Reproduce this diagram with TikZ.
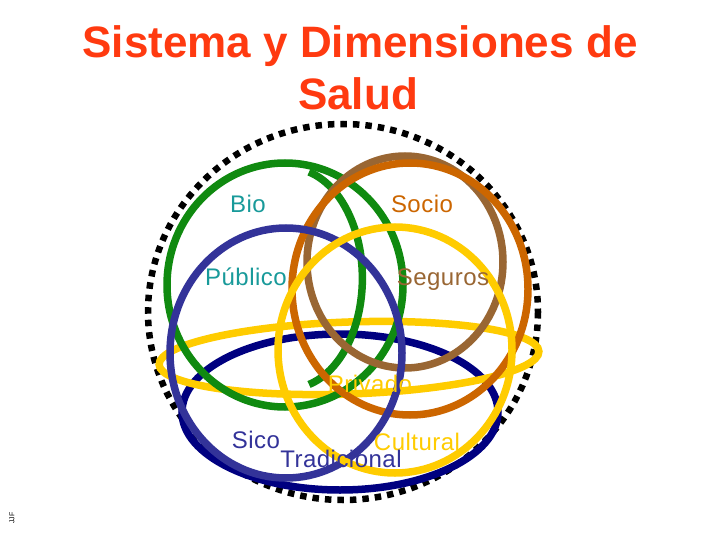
\documentclass[tikz,border=0pt]{standalone}
\usepackage{fontspec}
\setmainfont{Liberation Sans}
\definecolor{titlered}{HTML}{FF3A10}
\definecolor{tealtxt}{HTML}{189A9A}
\definecolor{orangec}{HTML}{CC6600}
\definecolor{brownc}{HTML}{996633}
\definecolor{greenc}{HTML}{108A10}
\definecolor{bluec}{HTML}{333399}
\definecolor{yellowc}{HTML}{FFCC00}
\definecolor{navyc}{HTML}{000080}
\tikzset{
  ring/.style={line width=7.5pt},
  dotring/.style={line width=6.5pt, dash pattern=on 6.5pt off 6pt},
  lbl/.style={font=\fontsize{24}{27}\selectfont\addfontfeature{LetterSpace=2}, inner sep=0pt, anchor=base},
  ttl/.style={font=\fontsize{44}{48}\selectfont\bfseries, text=titlered, inner sep=0pt, anchor=base}
}
\begin{document}
\begin{tikzpicture}[x=1pt,y=-1pt]
\useasboundingbox[fill=white] (0,0) rectangle (720,540);
% title
\node[ttl] (t1) at (360,58) {Sistema y Dimensiones de};
\node[ttl] (t2) at (358,110) {Salud};
% outer dotted ring
\draw[dotring] (343,312) ellipse[x radius=195, y radius=188];
% rings
\draw[ring, navyc] (340,412) ellipse[x radius=158, y radius=78];
\draw[ring, yellowc, rotate around={2:(349,358)}] (349,358) ellipse[x radius=190, y radius=36];
\draw[ring, greenc] (285,285) ellipse[x radius=118, y radius=122];
\draw[ring, greenc] (309,172) arc[start angle=-75, end angle=75, x radius=72, y radius=110];
\draw[ring, brownc] (405,262) ellipse[x radius=98, y radius=106];
\draw[ring, orangec] (410,289) ellipse[x radius=118, y radius=126];
\draw[ring, bluec] (286,353) ellipse[x radius=116, y radius=125];
\draw[ring, yellowc] (395,350) ellipse[x radius=117, y radius=123];
% labels
\node[lbl, text=tealtxt] (bio) at (248,212) {Bio};
\node[lbl, text=orangec] (socio) at (422,212) {Socio};
\node[lbl, text=tealtxt] (publico) at (246,285) {Público};
\node[lbl, text=brownc] (seguros) at (443,285) {Seguros};
\node[lbl, text=yellowc] (privado) at (370,392) {Privado};
\node[lbl, text=bluec] (sico) at (256,448) {Sico};
\node[lbl, text=yellowc] (cultural) at (417,450) {Cultural};
\node[lbl, text=bluec] (trad) at (341,467) {Tradicional};
% signature
\node[font=\fontsize{7}{8}\selectfont, rotate=90, inner sep=0pt] (sig) at (12,518) {JJF};
\end{tikzpicture}
\end{document}
